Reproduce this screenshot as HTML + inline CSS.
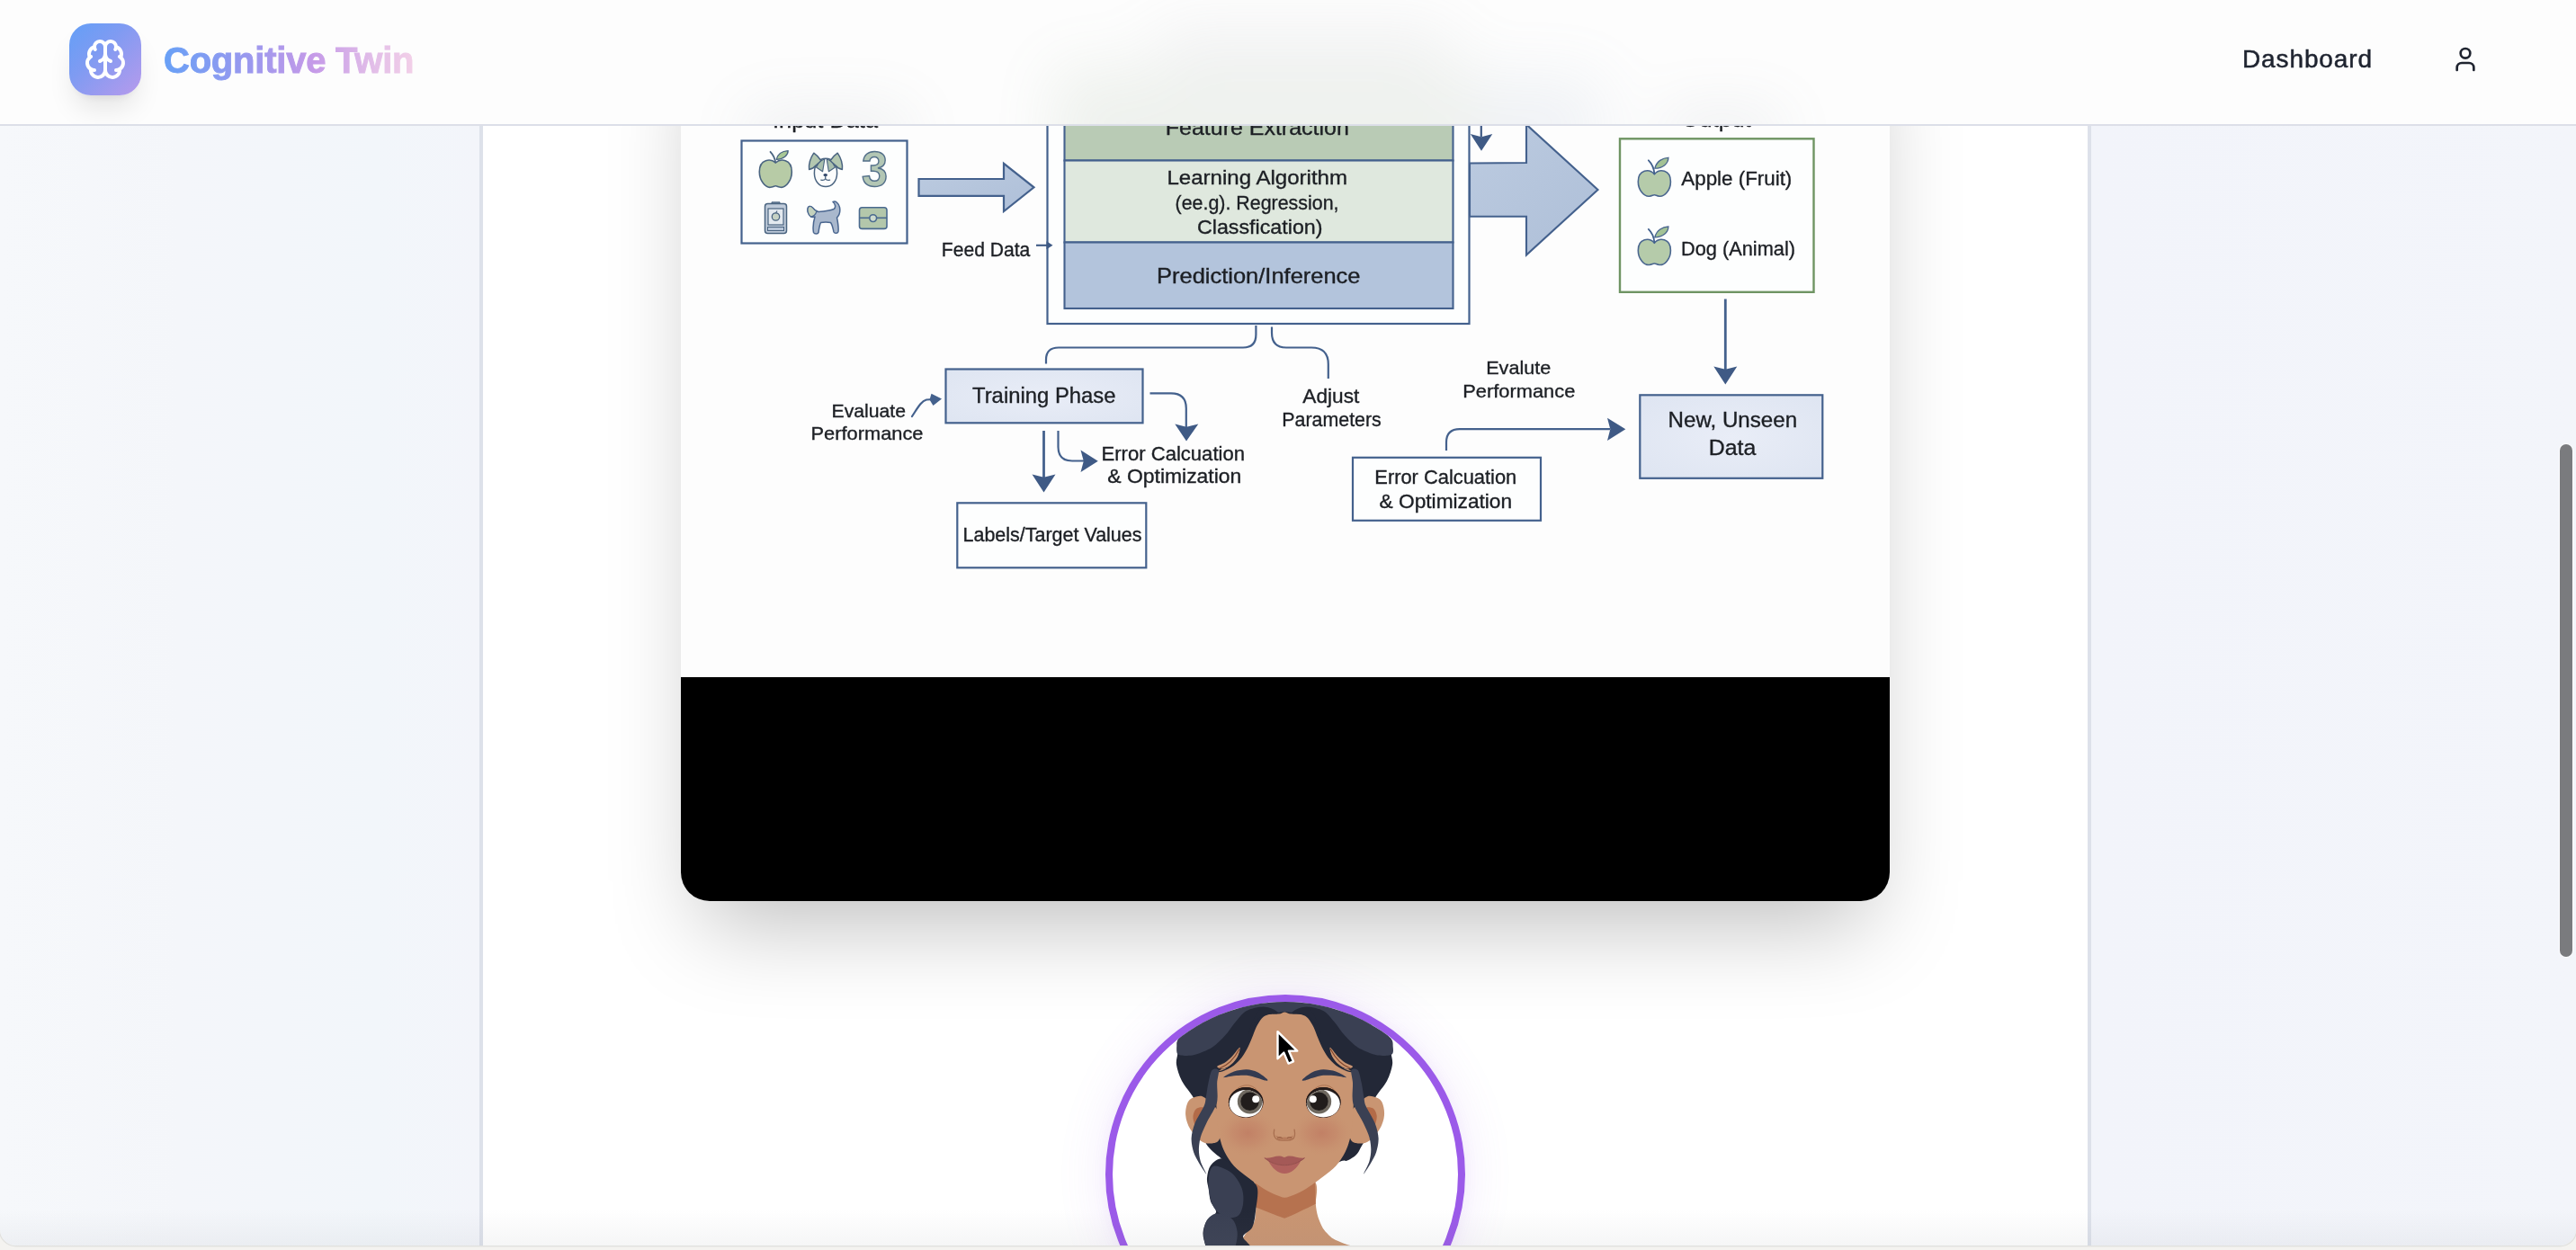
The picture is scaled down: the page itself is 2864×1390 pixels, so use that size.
<!DOCTYPE html>
<html lang="en">
<head>
<meta charset="utf-8">
<title>Cognitive Twin</title>
<style>
  html, body { margin: 0; padding: 0; }
  body {
    width: 2864px; height: 1390px; position: relative; overflow: hidden;
    font-family: "Liberation Sans", sans-serif;
    background: #f4f3f0;
  }
  #win {
    position: absolute; left: 0; top: 0; width: 2864px; height: 1385px;
    overflow: hidden; border-radius: 0 0 18px 18px;
    background: linear-gradient(90deg, #f6f8fb 0px, #f4f6fa 200px, #f2f6fa 420px, #f3f5fa 533px, #f2f4fa 2325px, #f3f5fa 2864px);
    box-shadow: 0 0 0 1.5px #e2e2df;
  }
  #col {
    position: absolute; left: 533px; top: 0; width: 1784px; height: 1390px;
    background: #ffffff;
    border-left: 4px solid #dde1ea; border-right: 4px solid #dde1ea;
  }
  #card {
    position: absolute; left: 757px; top: -3px; width: 1344px; height: 1005px;
    border-radius: 32px; overflow: hidden; background: #000;
  }
  #cardshadow {
    position: absolute; left: 757px; top: -3px; width: 1344px; height: 1005px;
    border-radius: 32px;
    box-shadow: 0 50px 100px -24px rgba(0,0,0,0.25);
  }
  #frame { position: absolute; left: 0; top: 0; width: 1344px; height: 756px; background: #fdfdfd; }
  #diagram { position: absolute; left: -757px; top: 3px; filter: blur(0.55px); }
  #diagram text:not([stroke]) { stroke: #1c1f24; stroke-width: 0.35px; }
  #header {
    position: absolute; left: 0; top: 0; width: 2864px; height: 138px;
    background: #fdfdfd; overflow: hidden;
    border-bottom: 2px solid #dcdfe8;
  }
  #glow { position: absolute; left: 0; top: 0; width: 2864px; height: 138px; filter: blur(34px); opacity: 0.11; }
  #glow div { position: absolute; }
  #logo {
    position: absolute; left: 77px; top: 26px; width: 80px; height: 80px; border-radius: 24px;
    background: linear-gradient(135deg, #639ff7 0%, #7f9bf2 40%, #b79aec 100%);
    box-shadow: 0 20px 30px -6px rgba(0,0,0,0.10), 0 8px 12px -8px rgba(0,0,0,0.10);
  }
  #logo svg { position: absolute; left: 16px; top: 16px; }
  #brand { position: absolute; left: 180px; top: 30px; }
  #dash {
    position: absolute; left: 2493px; top: 46px; height: 40px; line-height: 40px;
    font-size: 28px; color: #1f2430; white-space: nowrap; letter-spacing: 0.88px;
    -webkit-text-stroke: 0.5px #1f2430;
  }
  #user { position: absolute; left: 2725px; top: 50px; }
  #ring {
    position: absolute; left: 1229px; top: 1106px; width: 400px; height: 400px; box-sizing: border-box;
    border-radius: 50%; border: 8px solid #9b5ae9; background: #ffffff; overflow: hidden;
  }
  #ringglow {
    position: absolute; left: 1229px; top: 1106px; width: 400px; height: 400px; border-radius: 50%;
    box-shadow: 0 0 50px 8px rgba(155,93,229,0.095), 0 0 14px 1px rgba(155,93,229,0.07);
  }
  #thumb {
    position: absolute; left: 2846px; top: 494px; width: 14px; height: 570px; border-radius: 7px;
    background: #7a7b7e; box-shadow: 0 0 0 1px rgba(255,255,255,0.7);
  }
  #fade {
    position: absolute; left: 0; top: 1345px; width: 2864px; height: 40px;
    background: linear-gradient(180deg, rgba(120,125,135,0) 0%, rgba(120,125,135,0.07) 100%);
  }
</style>
</head>
<body>
<div id="win">
  <div id="col"></div>
  <div id="cardshadow"></div>
  <div id="card">
    <div id="frame">
      <!--DIAGRAM_START-->
<svg id="diagram" width="2864" height="1390" viewBox="0 0 2864 1390" font-family="Liberation Sans, sans-serif" fill="#1c1f24">
  <defs>
    <symbol id="apple" viewBox="0 0 36 44" preserveAspectRatio="none" overflow="visible">
      <path d="M18 19 C12.500 12.500 0 13.500 0 27.500 C0 37.500 7 44.500 12.500 43.800 C15.500 43.400 16.500 42.300 18 42.300 C19.500 42.300 20.500 43.400 23.500 43.800 C29 44.500 36 37.500 36 27.500 C36 13.500 23.500 12.500 18 19 Z" fill="#b5cbaa" stroke="#4a668f" stroke-width="1.600"/>
      <path d="M18 18.500 C17.500 12 15.500 7.500 11.500 3.500" fill="none" stroke="#41608d" stroke-width="1.800" stroke-linecap="round"/>
      <path d="M18.500 12.500 C20.500 4.500 27 0.800 33.500 0.500 C33.500 7 27.500 12.500 18.500 12.500 Z" fill="#a3c295" stroke="#4a668f" stroke-width="1.300"/>
    </symbol>
    <radialGradient id="gBox" cx="0.5" cy="0.5" r="0.75">
      <stop offset="0" stop-color="#e9edf7"/><stop offset="1" stop-color="#dde4f1"/>
    </radialGradient>
    <linearGradient id="gArrow" x1="0" y1="0" x2="1" y2="1">
      <stop offset="0" stop-color="#bccbe0"/><stop offset="1" stop-color="#aebfd8"/>
    </linearGradient>
  </defs>

  <!-- hidden-under-header bits (give the blur something to chew on) -->
  <text x="1429" y="62" font-size="34" text-anchor="middle" textLength="560" lengthAdjust="spacingAndGlyphs">Supervised Machine Learning Model</text>
  <text x="1398" y="100" font-size="24" text-anchor="middle">Model</text>

  <!-- Input Data -->
  <text x="859" y="142.200" font-size="24.500" textLength="117" lengthAdjust="spacingAndGlyphs">Input Data</text>
  <rect x="824.500" y="156.500" width="184" height="114" fill="#fdfefe" stroke="#44618d" stroke-width="2.200"/>

  <!-- icons row 1 -->
  <g stroke="#4a6480" stroke-linejoin="round">
    <path d="M862.300 181 C857 176 844.300 176.500 844.300 191 C844.300 201 851 208.800 856.500 208.300 C859.300 208 860.500 206.800 862.300 206.800 C864.100 206.800 865.300 208 868.100 208.300 C873.600 208.800 880.300 201 880.300 191 C880.300 176.500 867.600 176 862.300 181 Z" fill="#b7cba6" stroke-width="1.600"/>
    <path d="M862.200 180.500 C861.500 176 859.500 172 856.500 168.800" fill="none" stroke-width="1.800" stroke-linecap="round"/>
    <path d="M863.200 177.300 C864.500 171.500 869.500 168 876.200 167.600 C876 172.500 871.500 177 863.200 177.300 Z" fill="#a9c795" stroke-width="1.300"/>
  </g>
  <!-- dog face -->
  <g stroke="#4a6480" stroke-width="1.500" stroke-linejoin="round">
    <path d="M918 176.300 C926.500 176.300 930.800 184 930.600 193 C930.400 201.500 925 207.600 918 207.600 C911 207.600 905.600 201.500 905.400 193 C905.200 184 909.500 176.300 918 176.300 Z" fill="#fbfcfc"/>
    <path d="M904.800 170.200 C901.200 175.500 899 182.500 899.600 188.500 C902.800 187.800 905.600 186 907.600 183.500 L913 178.700 C910.500 175.200 907.800 172.200 904.800 170.200 Z" fill="#b3c7b0"/>
    <path d="M931.200 170.200 C934.800 175.500 937 182.500 936.400 188.500 C933.200 187.800 930.400 186 928.400 183.500 L923 178.700 C925.500 175.200 928.200 172.200 931.200 170.200 Z" fill="#b3c7b0"/>
    <path d="M913 178.700 C914.300 177.800 915.600 177.300 916.800 177.200 L914.600 190.800 L907.500 186 C908.500 183 910.500 180.500 913 178.700 Z" fill="#a9bfae" stroke-width="1.100"/>
    <path d="M923 178.700 C921.700 177.800 920.400 177.300 919.200 177.200 L921.400 190.800 L928.500 186 C927.500 183 925.500 180.500 923 178.700 Z" fill="#a9bfae" stroke-width="1.100"/>
    <ellipse cx="917.700" cy="194.600" rx="2.300" ry="1.700" fill="#2f4468" stroke="none"/>
    <path d="M917.700 196 L917.700 198.800 M912.800 200.200 C914.500 200.600 916.800 200.400 917.700 198.800 C918.600 200.400 920.900 200.600 922.600 200.200" fill="none" stroke-width="1.300" stroke-linecap="round"/>
  </g>
  <!-- 3 -->
  <text x="972.600" y="206.500" font-size="56" font-weight="bold" text-anchor="middle" fill="#b2c6b4" stroke="#54708a" stroke-width="1.500" textLength="29" lengthAdjust="spacingAndGlyphs">3</text>

  <!-- icons row 2 -->
  <!-- phone/jar -->
  <g stroke="#4a6480" stroke-width="1.500" fill="#bfcbda">
    <path d="M858 226 L867 226 L867 224.800 L858 224.800 Z" fill="#9fb0c8" stroke-width="1"/>
    <rect x="850.500" y="226.500" width="24" height="33" rx="3"/>
    <rect x="854" y="232" width="17" height="18" fill="#e3e9ef" stroke-width="1.200"/>
    <circle cx="862.500" cy="241" r="4.200" fill="#c6d2c4" stroke-width="1.300"/>
    <path d="M862.500 237 L864 234.500" fill="none" stroke-width="1.200"/>
    <rect x="853.500" y="252.500" width="18" height="4" fill="#b8c6d8" stroke-width="1"/>
  </g>
  <!-- dog body -->
  <path d="M926 224.500 C929 223 932.500 226 933.500 230.500 C934.500 235.500 933 239.500 930.500 242 C931.500 247 932.500 253 932 257.500 C931.800 259.500 928 260 927 258 C926 254 925.500 250 923.500 247.500 C920 247 916 247 912.500 247.500 C911 251 910.500 255 910 258.500 C909.500 260.500 905.500 260.500 904.500 258.500 C903.500 253 904.500 246 906 241 C904.500 241.500 903 241.500 901.500 241 C898.500 238.500 897 234 898.500 230.500 C900 229 902 229.500 903.500 231 C905 233 907 235 910 235.500 C916 235 922 234.500 927 232.500 C929.500 231 929 227 926 224.500 Z" fill="#a9b8cd" stroke="#4a668f" stroke-width="1.500" stroke-linejoin="round"/>
  <path d="M898.500 230.500 C900 229 902 229.500 903.500 231 C905 233 906.500 234.500 908 235 C907 238 905 240.500 901.500 241 C898.500 238.500 897 234 898.500 230.500 Z" fill="#c3d1bd" stroke="#4a668f" stroke-width="1.200"/>
  <!-- wallet -->
  <g stroke="#4a6a8f" stroke-width="1.600">
    <rect x="955.500" y="230.800" width="30.500" height="23.600" rx="3" fill="#b3c7ab"/>
    <path d="M955.500 242.300 L986 242.300" fill="none"/>
    <circle cx="970.700" cy="242.600" r="3.900" fill="#cfdccf"/>
  </g>

  <!-- arrow to model -->
  <path d="M1021.500 199 L1116 199 L1116 181.800 L1149.500 208.300 L1116 235 L1116 217.800 L1021.500 217.800 Z" fill="url(#gArrow)" stroke="#44618d" stroke-width="2.200" stroke-linejoin="miter"/>

  <!-- Feed data -->
  <text x="1046.800" y="285" font-size="21.600" textLength="98.500" lengthAdjust="spacingAndGlyphs">Feed Data</text>

  <!-- Model outer box -->
  <rect x="1164.500" y="58" width="469" height="302" fill="#fdfefe" stroke="#44618d" stroke-width="2.200"/>
  <!-- inner stacked -->
  <rect x="1183.500" y="112" width="432" height="66.500" fill="#b9cbb5" stroke="#44618d" stroke-width="2.100"/>
  <rect x="1183.500" y="178.500" width="432" height="91" fill="#dfe8de" stroke="#44618d" stroke-width="2.100"/>
  <rect x="1183.500" y="269.500" width="432" height="73.500" fill="#b3c4dc" stroke="#44618d" stroke-width="2.100"/>
  <text x="1295.800" y="150" font-size="24" textLength="204" lengthAdjust="spacingAndGlyphs">Feature Extraction</text>
  <text x="1297.500" y="205.300" font-size="22.600" textLength="200.500" lengthAdjust="spacingAndGlyphs">Learning Algorithm</text>
  <text x="1306.500" y="232.600" font-size="22.600" textLength="182" lengthAdjust="spacingAndGlyphs">(ee.g). Regression,</text>
  <text x="1331" y="259.900" font-size="22.600" textLength="139.500" lengthAdjust="spacingAndGlyphs">Classfication)</text>
  <text x="1286" y="315" font-size="23.200" textLength="226.500" lengthAdjust="spacingAndGlyphs">Prediction/Inference</text>

  <path d="M1152 272.800 L1166 272.800" stroke="#3f5a85" stroke-width="2.100" fill="none"/>
  <path d="M1163.500 268.300 L1170.500 272.800 L1163.500 277.300 Z" fill="#3f5a85"/>
  <!-- small down arrow -->
  <path d="M1646.800 100 L1646.800 152" stroke="#3f5a85" stroke-width="2.200" fill="none"/>
  <path d="M1634.800 149 L1647 152.200 L1659.300 149 L1647 167.800 Z" fill="#3f5a85"/>

  <!-- big arrow -->
  <path d="M1634 181.500 L1697 181 L1697 138.500 L1776.500 211 L1697 283.500 L1697 240.800 L1634 240.800 Z" fill="url(#gArrow)" stroke="#44618d" stroke-width="2.100" stroke-linejoin="miter"/>

  <!-- Output -->
  <text x="1869.200" y="141" font-size="24" textLength="77.500" lengthAdjust="spacingAndGlyphs">Output</text>
  <rect x="1801" y="154.300" width="215.500" height="170.500" fill="#fdfefe" stroke="#6f9463" stroke-width="2.400"/>
  <use href="#apple" x="1821.300" y="174.800" width="36.100" height="43.600"/>
  <use href="#apple" x="1821.300" y="251.500" width="36.100" height="43.200"/>
  <text x="1869.300" y="205.600" font-size="22" textLength="123" lengthAdjust="spacingAndGlyphs">Apple (Fruit)</text>
  <text x="1869" y="283.500" font-size="22" textLength="127" lengthAdjust="spacingAndGlyphs">Dog (Animal)</text>

  <!-- down arrow to new unseen -->
  <path d="M1918.300 332.500 L1918.300 412" stroke="#44618d" stroke-width="2.800" fill="none"/>
  <path d="M1905.300 407.500 L1918.300 410.800 L1931.300 407.500 L1918.300 427.500 Z" fill="#3f5a85"/>

  <!-- New Unseen Data -->
  <rect x="1823.300" y="439.300" width="203" height="92.500" fill="url(#gBox)" stroke="#44618d" stroke-width="2.200"/>
  <text x="1854.600" y="474.700" font-size="23.700" textLength="143.500" lengthAdjust="spacingAndGlyphs">New, Unseen</text>
  <text x="1899.800" y="505.800" font-size="23.700" textLength="52.500" lengthAdjust="spacingAndGlyphs">Data</text>

  <!-- brackets under model -->
  <path d="M1396.400 362 L1396.400 372 Q1396.400 386.500 1382 386.500 L1177 386.500 Q1163 386.500 1163 400 L1163 404.500" fill="none" stroke="#44618d" stroke-width="2.200"/>
  <path d="M1414 363.500 L1414 370 Q1414 386.500 1430 386.500 L1458 386.500 Q1476.800 386.500 1476.800 405 L1476.800 421" fill="none" stroke="#44618d" stroke-width="2.200"/>

  <!-- Training Phase -->
  <rect x="1051.500" y="410.500" width="219" height="59.800" fill="url(#gBox)" stroke="#44618d" stroke-width="2.200"/>
  <text x="1081" y="448" font-size="24.600" textLength="159.500" lengthAdjust="spacingAndGlyphs">Training Phase</text>

  <!-- Evaluate Performance (left) -->
  <text x="924.500" y="463.500" font-size="20.600" textLength="82.500" lengthAdjust="spacingAndGlyphs">Evaluate</text>
  <text x="901.500" y="489.300" font-size="20.600" textLength="125" lengthAdjust="spacingAndGlyphs">Performance</text>
  <path d="M1014 463 C1020 454 1024 446 1030 444.500 L1038 444" fill="none" stroke="#44618d" stroke-width="2.200" stroke-linecap="round"/>
  <path d="M1035.500 437.800 L1047 443.500 L1037.500 451 L1033.500 444.500 Z" fill="#44618d"/>

  <!-- arrows below training -->
  <path d="M1160.500 479 L1160.500 531" stroke="#44618d" stroke-width="2.800" fill="none"/>
  <path d="M1147.500 527.500 L1160.500 530.800 L1173.500 527.500 L1160.500 547.600 Z" fill="#3f5a85"/>
  <path d="M1176.500 479 L1176.500 497 Q1176.500 512.500 1192 512.500 L1205 512.500" fill="none" stroke="#44618d" stroke-width="2.200"/>
  <path d="M1201.500 500.500 L1204.800 512.800 L1201.500 525 L1220.800 512.800 Z" fill="#3f5a85"/>
  <path d="M1278.500 437.300 L1302 437.300 Q1318.800 437.300 1318.800 454 L1318.800 475" fill="none" stroke="#44618d" stroke-width="2.200"/>
  <path d="M1306.300 471.500 L1319 474.800 L1332.300 471.500 L1319 490.400 Z" fill="#3f5a85"/>

  <text x="1224.500" y="511.800" font-size="21.400" textLength="159.500" lengthAdjust="spacingAndGlyphs">Error Calcuation</text>
  <text x="1231.300" y="536.900" font-size="21.400" textLength="149" lengthAdjust="spacingAndGlyphs">&amp; Optimization</text>

  <!-- Labels box -->
  <rect x="1064.300" y="559.300" width="210" height="72" fill="#fdfefe" stroke="#44618d" stroke-width="2.200"/>
  <text x="1070.500" y="602.200" font-size="21.200" textLength="199" lengthAdjust="spacingAndGlyphs">Labels/Target Values</text>

  <!-- Adjust Parameters -->
  <text x="1448.300" y="448.100" font-size="22" textLength="63" lengthAdjust="spacingAndGlyphs">Adjust</text>
  <text x="1425.300" y="474" font-size="22" textLength="110.500" lengthAdjust="spacingAndGlyphs">Parameters</text>

  <!-- Evalute Performance (right) -->
  <text x="1652.200" y="415.800" font-size="21" textLength="72" lengthAdjust="spacingAndGlyphs">Evalute</text>
  <text x="1626.300" y="441.800" font-size="21" textLength="125" lengthAdjust="spacingAndGlyphs">Performance</text>

  <!-- Error calc box + arrow -->
  <path d="M1608 501 L1608 492 Q1608 477.200 1623 477.200 L1790 477.200" fill="none" stroke="#44618d" stroke-width="2.200"/>
  <path d="M1787 464.800 L1790.300 477.300 L1787 490 L1807.300 477.300 Z" fill="#3f5a85"/>
  <rect x="1504" y="508.800" width="209" height="70" fill="#fdfefe" stroke="#44618d" stroke-width="2.200"/>
  <text x="1528.300" y="538.400" font-size="21.800" textLength="158" lengthAdjust="spacingAndGlyphs">Error Calcuation</text>
  <text x="1533.600" y="564.500" font-size="21.800" textLength="147.500" lengthAdjust="spacingAndGlyphs">&amp; Optimization</text>
</svg>
<!--DIAGRAM_END-->
    </div>
  </div>
  <div id="ringglow"></div>
  <div id="ring">
    <!--AVATAR_START-->
<svg id="avatar" width="2864" height="1390" viewBox="0 0 2864 1390" style="position:absolute;left:-1237px;top:-1114px;filter:blur(0.4px);">
  <defs>
    <radialGradient id="blush" cx="0.500" cy="0.500" r="0.500">
      <stop offset="0" stop-color="#b96a58" stop-opacity="0.480"/>
      <stop offset="0.500" stop-color="#bd725d" stop-opacity="0.270"/>
      <stop offset="1" stop-color="#c58a6a" stop-opacity="0"/>
    </radialGradient>
    <clipPath id="eyeL"><ellipse cx="1385.200" cy="1227.200" rx="18.500" ry="15.200"/></clipPath>
    <clipPath id="eyeR"><ellipse cx="1471.300" cy="1227.200" rx="18.500" ry="15.200"/></clipPath>
  </defs>
  <path d="M1428.6 1112.0 C1417.4 1112.0 1406.4 1112.0 1395.0 1114.0 C1383.6 1116.0 1370.8 1119.7 1360.0 1124.0 C1349.2 1128.3 1338.2 1134.9 1330.0 1140.0 C1321.8 1145.1 1314.6 1150.6 1311.0 1154.6 C1307.4 1158.6 1308.8 1161.1 1308.5 1164.0 C1308.2 1166.9 1309.3 1168.7 1309.2 1172.0 C1309.1 1175.3 1307.2 1179.0 1308.0 1184.0 C1308.8 1189.0 1310.8 1195.8 1314.0 1202.0 C1317.2 1208.2 1323.9 1214.9 1327.2 1221.2 C1330.5 1227.5 1332.2 1233.2 1334.0 1240.0 C1335.8 1246.8 1336.8 1256.6 1338.0 1262.0 C1339.2 1267.4 1339.4 1269.0 1341.2 1272.2 C1343.0 1275.4 1346.2 1278.3 1349.0 1281.0 C1351.8 1283.7 1354.0 1285.0 1357.8 1288.2 C1361.6 1291.4 1365.8 1295.0 1372.0 1300.0 C1378.2 1305.0 1385.7 1313.8 1395.0 1318.0 C1404.3 1322.2 1412.9 1329.1 1428.0 1325.0 C1443.1 1320.9 1474.1 1299.2 1485.8 1293.5 C1497.5 1287.8 1494.3 1292.1 1498.0 1290.5 C1501.7 1288.9 1505.4 1286.6 1508.0 1284.0 C1510.6 1281.4 1511.5 1278.7 1513.5 1275.0 C1515.5 1271.3 1518.2 1267.8 1520.0 1262.0 C1521.8 1256.2 1522.5 1246.8 1524.0 1240.0 C1525.5 1233.2 1525.8 1227.5 1528.8 1221.2 C1531.8 1214.9 1538.8 1208.2 1542.0 1202.0 C1545.2 1195.8 1547.2 1189.0 1548.0 1184.0 C1548.8 1179.0 1546.9 1175.3 1546.8 1172.0 C1546.7 1168.7 1547.7 1166.9 1547.5 1164.0 C1547.3 1161.1 1549.0 1158.6 1545.6 1154.6 C1542.2 1150.6 1535.1 1145.1 1527.0 1140.0 C1518.9 1134.9 1507.8 1128.3 1497.0 1124.0 C1486.2 1119.7 1473.4 1116.0 1462.0 1114.0 C1450.6 1112.0 1439.8 1112.0 1428.6 1112.0 Z" fill="#232837"/>
  <path d="M1395.6 1312.0 C1391.0 1316.0 1395.7 1325.6 1395.8 1330.0 C1395.9 1334.4 1396.4 1341.2 1396.2 1345.2 C1396.0 1349.2 1395.7 1356.1 1394.0 1360.0 C1392.3 1363.9 1385.5 1370.1 1383.4 1374.6 C1381.3 1379.1 1359.8 1391.4 1378.0 1394.0 C1396.2 1396.6 1504.4 1395.5 1520.0 1394.0 C1535.6 1392.5 1499.9 1385.1 1494.8 1382.9 C1489.7 1380.7 1485.1 1379.3 1482.0 1377.2 C1478.9 1375.1 1473.9 1370.1 1471.7 1366.9 C1469.5 1363.7 1466.5 1356.6 1465.3 1352.9 C1464.1 1349.2 1463.2 1343.9 1462.8 1338.8 C1462.4 1333.7 1466.5 1319.7 1462.1 1314.5 C1457.7 1309.3 1438.9 1300.3 1430.0 1300.0 C1421.1 1299.7 1400.2 1308.0 1395.6 1312.0 Z" fill="#c99572"/>
  <path d="M1395.600 1316 L1462.100 1312 L1462.800 1338.800 C1452 1344 1438 1351 1428.200 1354.800 C1418 1351.500 1406 1346.500 1396.200 1342.600 Z" fill="#b6724f"/>
  <path d="M1357.8 1288.2 C1353.8 1288.2 1348.6 1292.4 1346.0 1296.0 C1343.4 1299.6 1342.4 1305.7 1342.0 1310.0 C1341.6 1314.3 1343.0 1317.7 1343.7 1322.0 C1344.4 1326.3 1344.6 1331.7 1346.0 1336.0 C1347.4 1340.3 1352.7 1344.5 1352.0 1348.0 C1351.3 1351.5 1344.4 1353.2 1342.0 1357.0 C1339.6 1360.8 1337.8 1366.3 1337.5 1370.8 C1337.2 1375.3 1339.1 1380.5 1340.0 1384.0 C1340.9 1387.5 1334.3 1390.7 1343.0 1392.0 C1351.7 1393.3 1384.4 1393.4 1392.0 1392.0 C1399.6 1390.6 1390.2 1386.5 1388.5 1383.6 C1386.8 1380.7 1381.4 1377.8 1382.1 1374.6 C1382.8 1371.4 1390.1 1369.3 1392.4 1364.4 C1394.8 1359.5 1395.4 1352.7 1396.2 1345.2 C1397.0 1337.7 1399.8 1326.0 1397.5 1319.6 C1395.2 1313.2 1386.7 1310.7 1382.1 1306.8 C1377.5 1302.9 1374.0 1299.1 1370.0 1296.0 C1366.0 1292.9 1361.8 1288.2 1357.8 1288.2 Z" fill="#232837"/>
  <path d="M1350.2 1296.5 C1353.0 1296.0 1358.4 1298.3 1362.0 1300.0 C1365.6 1301.7 1368.8 1303.1 1371.9 1306.8 C1375.1 1310.5 1379.2 1316.8 1380.9 1322.1 C1382.6 1327.4 1382.8 1333.9 1382.1 1338.8 C1381.4 1343.7 1379.7 1349.1 1377.0 1351.6 C1374.3 1354.1 1369.6 1354.4 1366.0 1354.0 C1362.4 1353.6 1358.4 1351.5 1355.3 1349.0 C1352.2 1346.5 1349.5 1343.7 1347.6 1338.8 C1345.7 1333.9 1344.1 1325.6 1343.7 1319.6 C1343.3 1313.6 1343.9 1306.8 1345.0 1303.0 C1346.1 1299.2 1347.4 1297.0 1350.2 1296.5 Z" fill="#3a4053"/>
  <path d="M1355.3 1349.5 C1358.0 1349.7 1361.2 1350.6 1364.0 1352.0 C1366.8 1353.4 1370.0 1354.9 1371.9 1358.0 C1373.9 1361.1 1375.4 1366.5 1375.7 1370.8 C1376.0 1375.1 1375.0 1380.1 1374.0 1384.0 C1373.0 1387.9 1375.0 1392.3 1370.0 1394.0 C1365.0 1395.7 1349.0 1395.7 1344.0 1394.0 C1339.0 1392.3 1341.0 1387.9 1340.0 1384.0 C1339.0 1380.1 1337.8 1375.1 1338.0 1370.8 C1338.2 1366.5 1339.5 1361.3 1341.2 1358.0 C1342.9 1354.7 1345.7 1352.4 1348.0 1351.0 C1350.3 1349.6 1352.6 1349.3 1355.3 1349.5 Z" fill="#3a4053"/>
  <path d="M1340.0 1221.0 C1335.5 1217.6 1333.2 1218.8 1330.0 1219.5 C1326.8 1220.2 1323.0 1221.5 1321.0 1225.0 C1319.0 1228.5 1317.8 1235.1 1318.2 1240.2 C1318.6 1245.3 1320.5 1250.9 1323.3 1255.6 C1326.1 1260.3 1331.0 1265.8 1334.8 1268.4 C1338.6 1271.1 1342.8 1271.9 1346.3 1271.5 C1349.8 1271.1 1354.2 1271.2 1356.0 1266.0 C1357.8 1260.8 1359.7 1247.5 1357.0 1240.0 C1354.3 1232.5 1344.5 1224.4 1340.0 1221.0 Z" fill="#c99572"/>
  <path d="M1517.2 1221.0 C1521.7 1217.6 1524.0 1218.8 1527.2 1219.5 C1530.4 1220.2 1534.2 1221.5 1536.2 1225.0 C1538.2 1228.5 1539.4 1235.1 1539.0 1240.2 C1538.6 1245.3 1536.7 1250.9 1533.9 1255.6 C1531.1 1260.3 1526.2 1265.8 1522.4 1268.4 C1518.6 1271.1 1514.4 1271.9 1510.9 1271.5 C1507.4 1271.1 1503.0 1271.2 1501.2 1266.0 C1499.4 1260.8 1497.5 1247.5 1500.2 1240.0 C1502.9 1232.5 1512.7 1224.4 1517.2 1221.0 Z" fill="#c99572"/>
  <path d="M1338.0 1231.5 C1336.2 1230.8 1331.9 1231.4 1330.0 1233.0 C1328.1 1234.6 1326.8 1238.0 1326.5 1241.0 C1326.2 1244.0 1327.2 1248.0 1328.5 1251.0 C1329.8 1254.0 1332.8 1259.5 1334.0 1259.0 C1335.2 1258.5 1334.8 1251.7 1336.0 1248.0 C1337.2 1244.3 1340.7 1239.8 1341.0 1237.0 C1341.3 1234.2 1339.8 1232.2 1338.0 1231.5 Z" fill="#b36b48"/>
  <path d="M1519.2 1231.5 C1521.0 1230.8 1525.3 1231.4 1527.2 1233.0 C1529.1 1234.6 1530.4 1238.0 1530.7 1241.0 C1530.9 1244.0 1529.9 1248.0 1528.7 1251.0 C1527.4 1254.0 1524.4 1259.5 1523.2 1259.0 C1521.9 1258.5 1522.4 1251.7 1521.2 1248.0 C1520.0 1244.3 1516.5 1239.8 1516.2 1237.0 C1515.9 1234.2 1517.4 1232.2 1519.2 1231.5 Z" fill="#b36b48"/>
  <path d="M1428.2 1125.4 C1426.2 1125.4 1424.7 1127.2 1422.0 1127.6 C1419.3 1128.0 1412.9 1127.5 1410.0 1128.2 C1407.1 1128.9 1404.8 1130.3 1402.8 1132.4 C1400.8 1134.5 1398.4 1138.8 1396.8 1142.0 C1395.2 1145.2 1393.6 1150.2 1392.0 1154.0 C1390.4 1157.8 1388.0 1163.6 1386.0 1167.2 C1384.0 1170.8 1381.3 1175.1 1378.8 1178.0 C1376.3 1180.9 1372.8 1184.4 1369.2 1186.4 C1365.6 1188.4 1357.3 1187.7 1354.8 1191.2 C1352.3 1194.7 1352.8 1203.9 1352.5 1210.0 C1352.2 1216.1 1352.3 1225.7 1352.5 1232.0 C1352.7 1238.3 1353.4 1246.7 1354.0 1252.0 C1354.6 1257.3 1355.3 1262.7 1356.5 1267.1 C1357.7 1271.5 1359.4 1276.8 1361.7 1281.2 C1364.0 1285.6 1368.1 1292.3 1371.9 1296.5 C1375.7 1300.7 1382.3 1305.5 1387.3 1309.3 C1392.3 1313.1 1400.6 1319.2 1405.2 1322.1 C1409.8 1325.0 1414.5 1327.1 1418.0 1328.5 C1421.5 1329.9 1425.2 1331.7 1428.4 1331.7 C1431.6 1331.7 1435.7 1329.9 1439.2 1328.5 C1442.7 1327.1 1447.4 1325.0 1452.0 1322.1 C1456.6 1319.2 1464.9 1313.1 1469.9 1309.3 C1474.9 1305.5 1481.5 1300.7 1485.3 1296.5 C1489.1 1292.3 1493.2 1285.6 1495.5 1281.2 C1497.8 1276.8 1499.5 1271.5 1500.7 1267.1 C1501.9 1262.7 1502.6 1257.3 1503.2 1252.0 C1503.8 1246.7 1504.5 1238.3 1504.7 1232.0 C1504.9 1225.7 1505.0 1216.1 1504.7 1210.0 C1504.4 1203.9 1504.9 1194.7 1502.4 1191.2 C1499.9 1187.7 1491.6 1188.4 1488.0 1186.4 C1484.4 1184.4 1480.9 1180.9 1478.4 1178.0 C1475.9 1175.1 1473.2 1170.8 1471.2 1167.2 C1469.2 1163.6 1466.8 1157.8 1465.2 1154.0 C1463.6 1150.2 1462.0 1145.2 1460.4 1142.0 C1458.8 1138.8 1456.4 1134.5 1454.4 1132.4 C1452.4 1130.3 1450.1 1128.9 1447.2 1128.2 C1444.3 1127.5 1438.0 1128.0 1435.2 1127.6 C1432.3 1127.2 1430.2 1125.4 1428.2 1125.4 Z" fill="#c99572"/>
  <ellipse cx="1387.300" cy="1260" rx="33" ry="25" fill="url(#blush)"/>
  <ellipse cx="1469.600" cy="1260" rx="33" ry="25" fill="url(#blush)"/>
  <path d="M1428.6 1112.0 C1418.5 1112.0 1405.3 1112.2 1395.0 1114.0 C1384.7 1115.8 1369.8 1120.1 1360.0 1124.0 C1350.2 1127.9 1337.3 1135.4 1330.0 1140.0 C1322.7 1144.6 1314.2 1151.0 1311.0 1154.6 C1307.8 1158.2 1308.8 1161.4 1308.5 1164.0 C1308.2 1166.6 1307.8 1170.5 1309.2 1172.0 C1310.6 1173.5 1314.9 1173.9 1318.0 1174.0 C1321.1 1174.1 1325.2 1174.0 1329.6 1172.6 C1334.0 1171.2 1342.7 1168.0 1347.6 1164.8 C1352.5 1161.6 1358.0 1155.9 1362.0 1151.6 C1366.0 1147.3 1370.4 1140.1 1374.0 1136.0 C1377.6 1131.9 1381.5 1126.4 1386.0 1124.0 C1390.5 1121.6 1399.0 1119.6 1404.0 1119.8 C1409.0 1120.0 1416.0 1124.6 1419.6 1125.4 C1423.2 1126.2 1425.5 1125.0 1428.2 1125.0 C1430.9 1125.0 1433.8 1126.2 1437.6 1125.4 C1441.3 1124.6 1448.2 1120.0 1453.2 1119.8 C1458.2 1119.6 1466.7 1121.6 1471.2 1124.0 C1475.7 1126.4 1479.6 1131.9 1483.2 1136.0 C1486.8 1140.1 1491.2 1147.3 1495.2 1151.6 C1499.2 1155.9 1504.7 1161.6 1509.6 1164.8 C1514.5 1168.0 1523.2 1171.2 1527.6 1172.6 C1532.0 1174.0 1536.1 1174.1 1539.2 1174.0 C1542.3 1173.9 1546.6 1173.5 1548.0 1172.0 C1549.4 1170.5 1549.0 1166.6 1548.7 1164.0 C1548.4 1161.4 1549.4 1158.2 1546.2 1154.6 C1543.0 1151.0 1534.5 1144.6 1527.2 1140.0 C1519.8 1135.4 1506.9 1127.9 1497.2 1124.0 C1487.4 1120.1 1472.5 1115.8 1462.2 1114.0 C1451.9 1112.2 1438.7 1112.0 1428.6 1112.0 Z" fill="#3a4053"/>
  <path d="M1404 1119.800 C1410 1119 1416 1121.500 1421 1125.800 C1416 1127.500 1411 1128 1406 1128.600 C1398 1131 1392 1140 1388 1150 C1391 1138 1396 1126 1404 1119.800 Z" fill="#232837"/>
  <path d="M1453.200 1119.800 C1447.200 1119 1441.200 1121.500 1436.200 1125.800 C1441.200 1127.500 1446.200 1128 1451.200 1128.600 C1459.200 1131 1465.200 1140 1469.200 1150 C1466.200 1138 1461.200 1126 1453.200 1119.800 Z" fill="#232837"/>
  <path d="M1353.2 1186.0 C1353.5 1184.8 1359.2 1183.4 1362.0 1181.5 C1364.8 1179.6 1367.3 1177.3 1370.0 1174.5 C1372.7 1171.7 1377.4 1164.7 1378.4 1164.8 C1379.4 1164.9 1377.6 1171.9 1376.0 1175.0 C1374.4 1178.1 1371.7 1181.2 1369.0 1183.5 C1366.3 1185.8 1362.6 1188.1 1360.0 1188.5 C1357.4 1188.9 1352.9 1187.2 1353.2 1186.0 Z" fill="#c99572"/>
  <path d="M1504.0 1186.0 C1503.7 1184.8 1498.0 1183.4 1495.2 1181.5 C1492.4 1179.6 1489.9 1177.3 1487.2 1174.5 C1484.5 1171.7 1479.8 1164.7 1478.8 1164.8 C1477.8 1164.9 1479.6 1171.9 1481.2 1175.0 C1482.8 1178.1 1485.5 1181.2 1488.2 1183.5 C1490.9 1185.8 1494.6 1188.1 1497.2 1188.5 C1499.8 1188.9 1504.3 1187.2 1504.0 1186.0 Z" fill="#c99572"/>
  <path d="M1356 1188 C1364 1185 1372 1178 1378 1166.500" fill="none" stroke="#7e4229" stroke-width="1.100" stroke-linecap="round"/>
  <path d="M1501.200 1188 C1493.200 1185 1485.200 1178 1479.200 1166.500" fill="none" stroke="#7e4229" stroke-width="1.100" stroke-linecap="round"/>
  <path d="M1379.5 1167.0 C1379.6 1167.2 1377.9 1174.7 1376.0 1178.0 C1374.1 1181.3 1371.2 1184.7 1368.0 1187.0 C1364.8 1189.3 1360.2 1191.2 1357.0 1192.0 C1353.8 1192.8 1348.7 1192.3 1349.0 1192.0 C1349.3 1191.7 1355.8 1191.2 1359.0 1190.0 C1362.2 1188.8 1365.8 1187.2 1368.5 1185.0 C1371.2 1182.8 1373.7 1179.5 1375.5 1176.5 C1377.3 1173.5 1379.4 1166.8 1379.5 1167.0 Z" fill="#232837"/>
  <path d="M1477.7 1167.0 C1477.6 1167.2 1479.3 1174.7 1481.2 1178.0 C1483.1 1181.3 1486.0 1184.7 1489.2 1187.0 C1492.4 1189.3 1497.0 1191.2 1500.2 1192.0 C1503.4 1192.8 1508.5 1192.3 1508.2 1192.0 C1507.9 1191.7 1501.4 1191.2 1498.2 1190.0 C1494.9 1188.8 1491.4 1187.2 1488.7 1185.0 C1485.9 1182.8 1483.5 1179.5 1481.7 1176.5 C1479.9 1173.5 1477.8 1166.8 1477.7 1167.0 Z" fill="#232837"/>
  <path d="M1347.5 1190.0 C1345.8 1192.1 1344.5 1199.5 1343.5 1204.0 C1342.5 1208.5 1341.5 1216.1 1340.8 1220.0 C1340.1 1223.9 1340.5 1225.6 1338.6 1230.0 C1336.7 1234.4 1330.5 1243.8 1328.4 1249.2 C1326.3 1254.6 1324.8 1261.0 1324.6 1265.8 C1324.4 1270.6 1325.8 1277.0 1327.1 1281.2 C1328.4 1285.4 1331.4 1290.4 1333.5 1294.0 C1335.6 1297.6 1341.0 1305.9 1341.2 1305.5 C1341.4 1305.1 1336.0 1295.4 1334.8 1291.4 C1333.6 1287.4 1332.9 1282.6 1332.9 1278.6 C1332.9 1274.6 1333.6 1269.0 1334.8 1264.6 C1336.0 1260.2 1338.7 1254.4 1341.2 1249.2 C1343.7 1244.0 1349.7 1234.4 1351.6 1230.0 C1353.5 1225.6 1353.4 1223.9 1353.6 1220.0 C1353.8 1216.1 1353.0 1208.5 1353.2 1204.0 C1353.4 1199.5 1355.7 1192.1 1354.8 1190.0 C1353.9 1187.9 1349.2 1187.9 1347.5 1190.0 Z" fill="#3a4053"/>
  <path d="M1509.7 1190.0 C1511.4 1192.1 1512.7 1199.5 1513.7 1204.0 C1514.7 1208.5 1515.7 1216.1 1516.4 1220.0 C1517.1 1223.9 1516.7 1225.6 1518.6 1230.0 C1520.5 1234.4 1526.7 1243.8 1528.8 1249.2 C1530.9 1254.6 1532.4 1261.0 1532.6 1265.8 C1532.8 1270.6 1531.4 1277.0 1530.1 1281.2 C1528.8 1285.4 1525.8 1290.4 1523.7 1294.0 C1521.6 1297.6 1516.2 1305.9 1516.0 1305.5 C1515.8 1305.1 1521.2 1295.4 1522.4 1291.4 C1523.6 1287.4 1524.3 1282.6 1524.3 1278.6 C1524.3 1274.6 1523.6 1269.0 1522.4 1264.6 C1521.2 1260.2 1518.5 1254.4 1516.0 1249.2 C1513.5 1244.0 1507.5 1234.4 1505.6 1230.0 C1503.7 1225.6 1503.8 1223.9 1503.6 1220.0 C1503.4 1216.1 1504.2 1208.5 1504.0 1204.0 C1503.8 1199.5 1501.5 1192.1 1502.4 1190.0 C1503.3 1187.9 1508.0 1187.9 1509.7 1190.0 Z" fill="#3a4053"/>
  <path d="M1360.2 1198.0 C1360.2 1197.3 1368.1 1192.7 1372.0 1191.4 C1375.9 1190.1 1382.1 1189.1 1386.0 1189.2 C1389.9 1189.3 1394.5 1190.5 1398.0 1192.2 C1401.5 1193.9 1407.7 1198.8 1409.0 1200.2 C1410.3 1201.6 1408.7 1201.8 1407.0 1201.6 C1405.3 1201.4 1401.2 1199.7 1398.0 1198.8 C1394.8 1197.9 1389.9 1196.2 1386.0 1195.8 C1382.1 1195.4 1375.9 1195.9 1372.0 1196.2 C1368.1 1196.5 1360.2 1198.7 1360.2 1198.0 Z" fill="#333a50"/>
  <path d="M1497.0 1198.0 C1497.0 1197.3 1489.1 1192.7 1485.2 1191.4 C1481.3 1190.1 1475.1 1189.1 1471.2 1189.2 C1467.3 1189.3 1462.6 1190.5 1459.2 1192.2 C1455.7 1193.9 1449.5 1198.8 1448.2 1200.2 C1446.8 1201.6 1448.5 1201.8 1450.2 1201.6 C1451.8 1201.4 1456.0 1199.7 1459.2 1198.8 C1462.3 1197.9 1467.3 1196.2 1471.2 1195.8 C1475.1 1195.4 1481.3 1195.9 1485.2 1196.2 C1489.1 1196.5 1497.0 1198.7 1497.0 1198.0 Z" fill="#333a50"/>
  <path d="M1368.2 1221.500 C1373.2 1210 1380.2 1206.800 1386.2 1206.800 C1392.2 1206.800 1398.2 1210 1402.7 1221.500" fill="none" stroke="#a9714f" stroke-width="0.900"/>
  <ellipse cx="1385.2" cy="1226" rx="19.300" ry="17" fill="#3a2018"/>
  <ellipse cx="1385.2" cy="1225.400" rx="19.300" ry="16.400" fill="#241b1a"/>
  <ellipse cx="1385.2" cy="1227.200" rx="18.500" ry="15.200" fill="#ffffff"/>
  <g clip-path="url(#eyeL)"><circle cx="1389.6" cy="1224.800" r="13.800" fill="#6f6960"/><circle cx="1389.6" cy="1224.800" r="10.200" fill="#211d1c"/></g>
  <circle cx="1396.2" cy="1222.200" r="4" fill="#ffffff"/>
  <path d="M1454.3 1221.500 C1459.3 1210 1466.3 1206.800 1472.3 1206.800 C1478.3 1206.800 1484.3 1210 1488.8 1221.500" fill="none" stroke="#a9714f" stroke-width="0.900"/>
  <ellipse cx="1471.3" cy="1226" rx="19.300" ry="17" fill="#3a2018"/>
  <ellipse cx="1471.3" cy="1225.400" rx="19.300" ry="16.400" fill="#241b1a"/>
  <ellipse cx="1471.3" cy="1227.200" rx="18.500" ry="15.200" fill="#ffffff"/>
  <g clip-path="url(#eyeR)"><circle cx="1466.4" cy="1224.800" r="13.800" fill="#6f6960"/><circle cx="1466.4" cy="1224.800" r="10.200" fill="#211d1c"/></g>
  <circle cx="1459.8" cy="1222.200" r="4" fill="#ffffff"/>
  <path d="M1416.700 1256.200 C1415.800 1261 1416.600 1265 1419.300 1266.600 C1422.500 1268.400 1425.500 1268.300 1428.200 1267.800 C1431 1268.300 1434 1268.400 1437.200 1266.600 C1439.900 1265 1440 1261 1439.100 1256.200" fill="none" stroke="#a86f50" stroke-width="1.300" stroke-linecap="round"/>
  <path d="M1418.500 1262.500 C1419.500 1266.500 1423.500 1268.600 1428.200 1267.600 C1433 1268.600 1437 1266.500 1438 1262.500 C1435 1264.500 1431.500 1265 1428.200 1264.600 C1425 1265 1421.500 1264.500 1418.500 1262.500 Z" fill="#b77c5c"/>
  <path d="M1420.500 1265.200 C1422 1264.200 1424 1264.300 1425.300 1265.400 M1431.200 1265.400 C1432.500 1264.300 1434.500 1264.200 1436 1265.200" fill="none" stroke="#8f583d" stroke-width="0.900" stroke-linecap="round"/>
  <path d="M1405.800 1287.600 C1411.500 1288.400 1417.500 1285.200 1423.100 1285.500 C1425.300 1285.700 1426.800 1287 1428 1287 C1429.200 1287 1430.500 1285.700 1432.700 1285.500 C1438.300 1285.200 1445 1288.400 1450.600 1287.600 C1444 1293 1436.500 1295.600 1428.200 1295.600 C1420 1295.600 1412.500 1293 1405.800 1287.600 Z" fill="#a45957"/>
  <path d="M1410 1290.600 C1414.500 1299.500 1421 1305 1428.200 1305 C1435.500 1305 1442 1299.500 1446.400 1290.600 C1441 1294 1435 1295.900 1428.200 1295.900 C1421.500 1295.900 1415.500 1294 1410 1290.600 Z" fill="#b0615d"/>
  <path d="M1405.800 1287.600 C1412.500 1293 1420 1295.700 1428.200 1295.700 C1436.500 1295.700 1444 1293 1450.600 1287.600" fill="none" stroke="#8f4a4b" stroke-width="0.900"/>
</svg>
<!--AVATAR_END-->
  </div>
  <svg id="cursor" width="40" height="50" viewBox="0 0 40 50" style="position:absolute;left:1417px;top:1144px;">
    <path d="M3.500 3.200 L3.500 33.200 L10.400 26.600 L15.500 38.600 L21 36.300 L15.900 24.600 L25.300 24.600 Z" fill="#000" stroke="#fff" stroke-width="2.400" stroke-linejoin="round"/>
  </svg>
  <div id="header">
    <div id="glow">
      <div style="left:1170px;top:74px;width:470px;height:140px;background:#7f9a78;"></div>
      <div style="left:1290px;top:30px;width:320px;height:50px;background:#9a9fa6;"></div>
      <div style="left:1640px;top:84px;width:140px;height:110px;background:#8fa3c0;"></div>
      <div style="left:830px;top:122px;width:180px;height:60px;background:#7c8794;"></div>
      <div style="left:1850px;top:122px;width:130px;height:50px;background:#7c8794;"></div>
    </div>
    <div id="logo">
      <svg width="48" height="48" viewBox="0 0 24 24" fill="none" stroke="#ffffff" stroke-width="2" stroke-linecap="round" stroke-linejoin="round">
        <path d="M12 5a3 3 0 1 0-5.997.125 4 4 0 0 0-2.526 5.77 4 4 0 0 0 .556 6.588A4 4 0 1 0 12 18Z"/>
        <path d="M12 5a3 3 0 1 1 5.997.125 4 4 0 0 1 2.526 5.77 4 4 0 0 1-.556 6.588A4 4 0 1 1 12 18Z"/>
        <path d="M15 13a4.500 4.500 0 0 1-3-4 4.500 4.500 0 0 1-3 4"/>
        <path d="M17.599 6.500a3 3 0 0 0 .399-1.375"/>
        <path d="M6.003 5.125A3 3 0 0 0 6.401 6.500"/>
        <path d="M3.477 10.896a4 4 0 0 1 .585-.396"/>
        <path d="M19.938 10.500a4 4 0 0 1 .585.396"/>
        <path d="M6 18a4 4 0 0 1-1.967-.516"/>
        <path d="M19.967 17.484A4 4 0 0 1 18 18"/>
      </svg>
    </div>
    <svg id="brand" width="320" height="80" viewBox="0 0 320 80">
      <defs><linearGradient id="gBrand" gradientUnits="userSpaceOnUse" x1="3" y1="0" x2="279" y2="0">
        <stop offset="0" stop-color="#68a0f6"/><stop offset="0.350" stop-color="#9c98ee"/><stop offset="0.600" stop-color="#c59ae8"/><stop offset="0.850" stop-color="#e3bfe8"/><stop offset="1" stop-color="#f2cfe8"/>
      </linearGradient></defs>
      <text x="2" y="51.200" font-family="Liberation Sans, sans-serif" font-weight="bold" font-size="40" textLength="278.5" lengthAdjust="spacing" fill="url(#gBrand)" stroke="url(#gBrand)" stroke-width="0.900">Cognitive Twin</text>
    </svg>
    <div id="dash">Dashboard</div>
    <svg id="user" width="32" height="32" viewBox="0 0 24 24" fill="none" stroke="#1f2430" stroke-width="2" stroke-linecap="round" stroke-linejoin="round">
      <path d="M19 21v-2a4 4 0 0 0-4-4H9a4 4 0 0 0-4 4v2"/>
      <circle cx="12" cy="7" r="4"/>
    </svg>
  </div>
  <div id="thumb"></div>
  <div id="fade"></div>
</div>
</body>
</html>
